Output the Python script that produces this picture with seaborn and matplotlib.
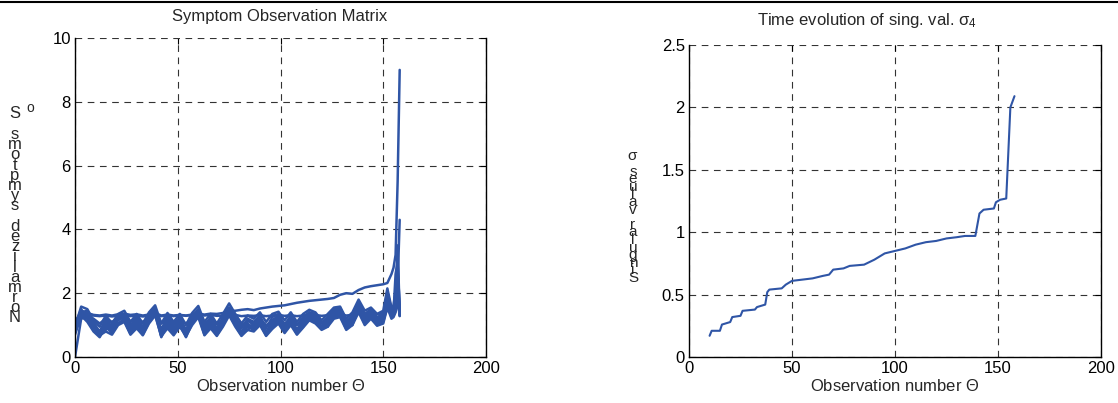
import numpy as np
import pandas as pd
import matplotlib
matplotlib.use('Agg')
import matplotlib.pyplot as plt
from matplotlib.lines import Line2D
import seaborn as sns

sns.set_style('white')
plt.rcParams['font.family'] = ['Liberation Sans', 'DejaVu Sans']
plt.rcParams['mathtext.fontset'] = 'custom'
plt.rcParams['mathtext.rm'] = 'Liberation Sans'
plt.rcParams['mathtext.it'] = 'Liberation Sans'

# observation numbers (left panel)
obs = [0, 3, 6, 9, 12, 15, 18, 21, 24, 27,
       30, 33, 36, 39, 42, 45, 48, 51, 54, 57,
       60, 63, 66, 69, 72, 75, 78, 81, 84, 87,
       90, 93, 96, 99, 102, 105, 108, 111, 114, 117,
       120, 123, 126, 129, 132, 135, 138, 141, 144, 147,
       150, 152, 154, 155, 156, 157, 158]

sym_a = [0.95, 1.58, 1.50, 1.15, 0.95, 1.30, 1.05, 1.35, 1.45, 1.10,
         1.35, 1.05, 1.40, 1.62, 1.05, 1.38, 1.10, 1.35, 1.00, 1.38,
         1.60, 1.10, 1.35, 1.05, 1.35, 1.68, 1.35, 1.05, 1.30, 1.20,
         1.40, 1.10, 1.35, 1.42, 1.15, 1.40, 1.10, 1.35, 1.48, 1.40,
         1.15, 1.35, 1.55, 1.58, 1.20, 1.40, 1.80, 1.45, 1.55, 1.35,
         1.45, 2.15, 1.55, 1.60, 2.10, 2.90, 1.50]
sym_b = [0.85, 1.45, 1.38, 1.00, 0.72, 1.15, 0.85, 1.25, 1.35, 0.90,
         1.20, 0.85, 1.30, 1.55, 0.70, 1.25, 0.90, 1.20, 0.70, 1.25,
         1.50, 0.85, 1.20, 0.80, 1.20, 1.55, 1.20, 0.75, 1.15, 1.00,
         1.25, 0.75, 1.15, 1.30, 0.90, 1.25, 0.85, 1.20, 1.40, 1.30,
         0.95, 1.20, 1.45, 1.50, 1.00, 1.25, 1.70, 1.25, 1.45, 1.15,
         1.30, 2.00, 1.45, 1.50, 1.80, 2.40, 1.40]
sym_c = [0.75, 1.35, 1.30, 0.90, 0.65, 1.05, 0.80, 1.15, 1.25, 0.80,
         1.10, 0.75, 1.20, 1.45, 0.65, 1.15, 0.80, 1.10, 0.65, 1.15,
         1.40, 0.75, 1.10, 0.72, 1.10, 1.45, 1.10, 0.69, 1.05, 0.90,
         1.15, 0.69, 1.05, 1.20, 0.80, 1.15, 0.78, 1.10, 1.30, 1.20,
         0.90, 1.10, 1.35, 1.40, 0.92, 1.15, 1.55, 1.15, 1.35, 1.05,
         1.20, 1.80, 1.35, 1.40, 1.60, 3.50, 1.35]
sym_d = [0.00, 1.20, 1.25, 0.95, 0.70, 1.10, 0.90, 1.05, 1.20, 0.85,
         1.05, 0.80, 1.10, 1.40, 0.75, 1.05, 0.85, 1.05, 0.75, 1.10,
         1.35, 0.80, 1.05, 0.80, 1.05, 1.35, 1.05, 0.80, 1.00, 0.95,
         1.10, 0.80, 1.00, 1.15, 0.85, 1.10, 0.85, 1.05, 1.25, 1.15,
         0.95, 1.05, 1.30, 1.35, 0.95, 1.10, 1.50, 1.10, 1.30, 1.10,
         1.15, 1.70, 1.30, 1.35, 1.50, 2.00, 1.30]
sym_e = [1.00, 1.50, 1.20, 1.05, 0.80, 1.20, 0.95, 1.25, 1.30, 1.00,
         1.25, 0.95, 1.25, 1.50, 0.85, 1.30, 1.00, 1.25, 0.85, 1.30,
         1.45, 0.95, 1.25, 0.90, 1.25, 1.55, 1.25, 0.90, 1.20, 1.10,
         1.30, 0.90, 1.25, 1.35, 1.00, 1.30, 1.00, 1.25, 1.40, 1.35,
         1.05, 1.25, 1.50, 1.52, 1.10, 1.30, 1.72, 1.35, 1.50, 1.25,
         1.35, 2.05, 1.50, 1.55, 1.90, 2.30, 4.30]
sym_f = [0.70, 1.30, 1.10, 0.80, 0.62, 0.95, 0.75, 1.05, 1.15, 0.72,
         1.00, 0.70, 1.10, 1.35, 0.62, 1.05, 0.72, 1.00, 0.62, 1.05,
         1.30, 0.70, 1.00, 0.68, 1.00, 1.35, 1.00, 0.68, 0.95, 0.85,
         1.05, 0.68, 0.95, 1.10, 0.78, 1.05, 0.72, 1.00, 1.20, 1.10,
         0.88, 1.00, 1.25, 1.30, 0.88, 1.05, 1.45, 1.05, 1.25, 1.00,
         1.10, 1.60, 1.25, 1.30, 1.45, 1.90, 1.30]
sym_g = [1.05, 1.35, 1.38, 1.32, 1.30, 1.33, 1.30, 1.34, 1.36, 1.32,
         1.34, 1.30, 1.33, 1.38, 1.30, 1.33, 1.30, 1.32, 1.29, 1.32,
         1.36, 1.30, 1.32, 1.29, 1.30, 1.35, 1.32, 1.28, 1.30, 1.29,
         1.31, 1.28, 1.30, 1.32, 1.29, 1.31, 1.28, 1.30, 1.33, 1.32,
         1.29, 1.31, 1.34, 1.35, 1.30, 1.32, 1.38, 1.33, 1.36, 1.34,
         1.38, 1.45, 1.40, 1.42, 1.55, 2.20, 1.40]
sym_h = [1.10, 1.40, 1.36, 1.30, 1.28, 1.30, 1.27, 1.30, 1.32, 1.28,
         1.30, 1.27, 1.30, 1.35, 1.28, 1.30, 1.28, 1.32, 1.30, 1.33,
         1.36, 1.33, 1.36, 1.35, 1.38, 1.45, 1.45, 1.48, 1.50, 1.47,
         1.52, 1.55, 1.58, 1.60, 1.62, 1.66, 1.70, 1.73, 1.76, 1.78,
         1.80, 1.82, 1.85, 1.95, 2.00, 1.98, 2.10, 2.18, 2.22, 2.25,
         2.28, 2.32, 2.60, 2.80, 3.20, 5.50, 9.00]
sym_i = [0.90, 1.40, 1.45, 1.10, 0.75, 0.85, 1.00, 1.30, 1.20, 0.75,
         0.95, 0.90, 1.35, 1.50, 0.80, 0.95, 0.75, 1.15, 0.80, 1.20,
         1.45, 0.90, 0.95, 0.70, 1.15, 1.50, 1.15, 0.72, 0.85, 1.05,
         1.20, 0.72, 0.90, 1.25, 0.82, 1.20, 0.75, 0.95, 1.35, 1.25,
         0.92, 0.95, 1.40, 1.45, 0.95, 1.00, 1.65, 1.20, 1.40, 1.10,
         1.25, 1.90, 1.40, 1.45, 1.70, 2.60, 1.35]
sym_j = [0.80, 1.25, 1.20, 0.85, 0.68, 0.80, 0.70, 1.00, 1.10, 0.70,
         0.90, 0.68, 1.05, 1.30, 0.65, 0.90, 0.68, 0.95, 0.66, 1.00,
         1.25, 0.68, 0.90, 0.66, 0.95, 1.30, 0.95, 0.66, 0.85, 0.80,
         1.00, 0.66, 0.88, 1.05, 0.75, 1.00, 0.70, 0.92, 1.15, 1.05,
         0.85, 0.95, 1.20, 1.25, 0.85, 1.00, 1.40, 1.00, 1.20, 0.98,
         1.05, 1.55, 1.20, 1.25, 1.40, 1.80, 1.28]
sym_k = [0.92, 1.30, 1.28, 1.20, 1.05, 1.20, 1.10, 1.22, 1.25, 1.12,
         1.20, 1.10, 1.22, 1.40, 1.05, 1.20, 1.10, 1.18, 1.05, 1.20,
         1.30, 1.05, 1.18, 1.02, 1.15, 1.40, 1.18, 1.00, 1.12, 1.08,
         1.18, 1.00, 1.12, 1.22, 1.05, 1.18, 1.02, 1.15, 1.28, 1.22,
         1.08, 1.18, 1.35, 1.40, 1.12, 1.22, 1.55, 1.25, 1.38, 1.22,
         1.30, 1.85, 1.38, 1.42, 2.60, 3.00, 1.45]
symptoms = [sym_a, sym_b, sym_c, sym_d, sym_e, sym_f, sym_g,
            sym_i, sym_j, sym_k, sym_h]

# singular value sigma_4 (right panel)
obs_sv = [10, 11, 15, 16, 20, 21, 25, 26, 32, 33, 37, 38, 39, 45, 47, 50,
          55, 60, 65, 68, 70, 75, 78, 85, 90, 95, 100, 105, 110, 115, 120,
          125, 130, 134, 139, 141, 143, 148, 149, 151, 154, 156, 158]
sigma4 = [0.17, 0.21, 0.21, 0.26, 0.28, 0.32, 0.33, 0.37, 0.38, 0.40, 0.42,
          0.52, 0.54, 0.55, 0.58, 0.61, 0.62, 0.63, 0.65, 0.66, 0.70, 0.71,
          0.73, 0.74, 0.78, 0.83, 0.85, 0.87, 0.90, 0.92, 0.93, 0.95, 0.96,
          0.97, 0.97, 1.15, 1.18, 1.19, 1.24, 1.26, 1.27, 2.00, 2.09]

W, H = 1118, 403
blue = '#2f55a6'

fig = plt.figure(figsize=(W / 100, H / 100), dpi=100)
ax1 = fig.add_axes([75 / W, 1 - 357 / H, 411 / W, 319 / H])
ax2 = fig.add_axes([689 / W, 1 - 357 / H, 412 / W, 312 / H])

for vals in symptoms:
    sns.lineplot(x=obs, y=vals, ax=ax1, color=blue, lw=1.8, estimator=None)
sns.lineplot(x=obs_sv, y=sigma4, ax=ax2, color=blue, lw=1.5, estimator=None)

for ax, ymax, yt in [(ax1, 10, [0, 2, 4, 6, 8, 10]),
                     (ax2, 2.5, [0, 0.5, 1, 1.5, 2, 2.5])]:
    ax.set_xlim(0, 200)
    ax.set_ylim(0, ymax)
    ax.set_xticks([0, 50, 100, 150, 200])
    ax.set_yticks(yt)
    ax.set_yticklabels([f'{v:g}' for v in yt])
    ax.grid(True, color='#333333', linestyle=(0, (6, 5)), linewidth=0.8)
    ax.set_axisbelow(True)
    ax.spines['top'].set_visible(False)
    for s in ['left', 'bottom', 'right']:
        ax.spines[s].set_color('black')
        ax.spines[s].set_linewidth(1.0)
    ax.tick_params(direction='in', length=4, top=True, right=True,
                   labelsize=12, colors='black', pad=3)
    ax.set_xlabel('Observation number $\\Theta$', fontsize=12, labelpad=1)
    ax.set_ylabel('')

fig.text(280 / W, 1 - 16 / H, 'Symptom Observation Matrix', ha='center',
         va='center', fontsize=12)
fig.text(867 / W, 1 - 20 / H, 'Time evolution of sing. val. $\\sigma_4$',
         ha='center', va='center', fontsize=12)

# stacked (badly rotated) y labels, as in the original figure
lab1 = 'Normalized symptoms S'
for i, ch in enumerate(lab1):
    fig.text(15 / W, 1 - (318 - i * 10.2) / H, ch, ha='center', va='center',
             fontsize=12)
fig.text(30 / W, 1 - 108 / H, 'o', ha='center', va='center', fontsize=10)

chars2 = list('Singular values ') + ['$\\sigma$']
for i, ch in enumerate(chars2):
    fig.text(633 / W, 1 - (278 - i * 7.6) / H, ch, ha='center', va='center',
             fontsize=11)

fig.add_artist(Line2D([0, 1], [1 - 1.5 / H, 1 - 1.5 / H], color='black',
                      lw=1.5, transform=fig.transFigure))

fig.savefig('out.png', dpi=100)
